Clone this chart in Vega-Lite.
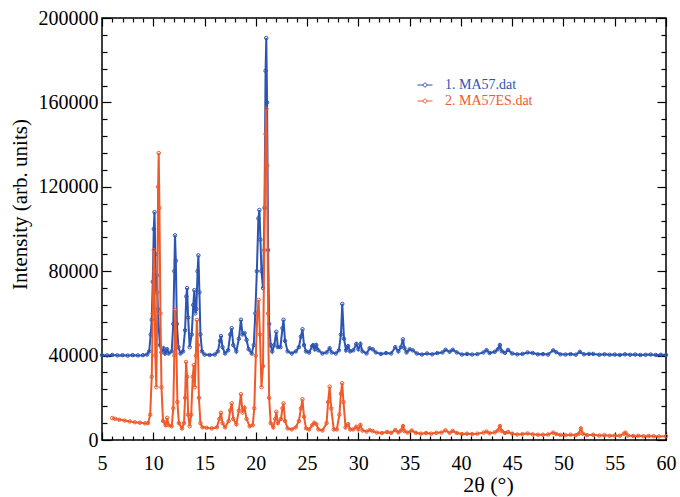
{
  "$schema": "https://vega.github.io/schema/vega-lite/v6.json",
  "width": 564,
  "height": 422,
  "autosize": {"type": "none"},
  "padding": {"left": 102, "top": 18, "right": 14, "bottom": 57},
  "background": "white",
  "config": {
    "view": {"stroke": "black", "strokeWidth": 1.5},
    "font": "Liberation Serif",
    "axis": {"labelFont": "Liberation Serif", "titleFont": "Liberation Serif", "grid": false, "domain": false, "labelColor": "black", "titleColor": "black", "titleFontWeight": "normal"},
    "legend": {"labelFont": "Liberation Serif"}
  },
  "datasets": {
    "a": [
      {"x":5.0,"y":40200},{"x":5.5,"y":40100},{"x":6.0,"y":40300},{"x":6.5,"y":40100},{"x":7.0,"y":40200},{"x":7.5,"y":40000},{"x":8.0,"y":40200},{"x":8.5,"y":40100},{"x":9.0,"y":40200},{"x":9.4,"y":40500},{"x":9.6,"y":42000},{"x":9.75,"y":50000},{"x":9.85,"y":57000},{"x":9.95,"y":75000},{"x":10.05,"y":100000},{"x":10.12,"y":108000},{"x":10.2,"y":88000},{"x":10.28,"y":70000},{"x":10.35,"y":78000},{"x":10.45,"y":62000},{"x":10.55,"y":52000},{"x":10.65,"y":45000},{"x":10.8,"y":41500},{"x":11.0,"y":43500},{"x":11.15,"y":41000},{"x":11.35,"y":43000},{"x":11.5,"y":41000},{"x":11.8,"y":42000},{"x":11.95,"y":55000},{"x":12.05,"y":80000},{"x":12.12,"y":97000},{"x":12.2,"y":85000},{"x":12.3,"y":55000},{"x":12.45,"y":44000},{"x":12.65,"y":41000},{"x":12.9,"y":42000},{"x":13.1,"y":52000},{"x":13.22,"y":68000},{"x":13.3,"y":72000},{"x":13.4,"y":58000},{"x":13.55,"y":44000},{"x":13.75,"y":50000},{"x":13.9,"y":64000},{"x":14.0,"y":71000},{"x":14.1,"y":60000},{"x":14.2,"y":62000},{"x":14.32,"y":80000},{"x":14.4,"y":87500},{"x":14.5,"y":70000},{"x":14.6,"y":50000},{"x":14.75,"y":42000},{"x":15.0,"y":40500},{"x":15.5,"y":40300},{"x":16.0,"y":40500},{"x":16.3,"y":42000},{"x":16.5,"y":47000},{"x":16.6,"y":49300},{"x":16.75,"y":44000},{"x":17.0,"y":41000},{"x":17.3,"y":42500},{"x":17.5,"y":50000},{"x":17.65,"y":53000},{"x":17.8,"y":45000},{"x":18.1,"y":42000},{"x":18.35,"y":48000},{"x":18.55,"y":57000},{"x":18.7,"y":50000},{"x":18.9,"y":50700},{"x":19.1,"y":47400},{"x":19.3,"y":43000},{"x":19.6,"y":41000},{"x":19.8,"y":45000},{"x":19.95,"y":60000},{"x":20.1,"y":80000},{"x":20.25,"y":105000},{"x":20.35,"y":109000},{"x":20.45,"y":95000},{"x":20.55,"y":80000},{"x":20.7,"y":72000},{"x":20.85,"y":110000},{"x":20.95,"y":175000},{"x":21.02,"y":190500},{"x":21.1,"y":160000},{"x":21.2,"y":90000},{"x":21.3,"y":55000},{"x":21.45,"y":45000},{"x":21.6,"y":42000},{"x":21.8,"y":45000},{"x":22.0,"y":51300},{"x":22.15,"y":44000},{"x":22.4,"y":44000},{"x":22.6,"y":53000},{"x":22.7,"y":57000},{"x":22.85,"y":47000},{"x":23.1,"y":42000},{"x":23.5,"y":41000},{"x":23.9,"y":42000},{"x":24.2,"y":44000},{"x":24.4,"y":49000},{"x":24.55,"y":52500},{"x":24.7,"y":45000},{"x":24.9,"y":42000},{"x":25.2,"y":41500},{"x":25.5,"y":44500},{"x":25.6,"y":45000},{"x":25.75,"y":43000},{"x":25.9,"y":45000},{"x":26.1,"y":42500},{"x":26.5,"y":41000},{"x":26.9,"y":41500},{"x":27.2,"y":43500},{"x":27.4,"y":41500},{"x":27.8,"y":41000},{"x":28.1,"y":42500},{"x":28.3,"y":50000},{"x":28.43,"y":64500},{"x":28.6,"y":48000},{"x":28.8,"y":42500},{"x":29.0,"y":44500},{"x":29.2,"y":42000},{"x":29.5,"y":42500},{"x":29.8,"y":45500},{"x":30.0,"y":43000},{"x":30.2,"y":45500},{"x":30.4,"y":42000},{"x":30.8,"y":41000},{"x":31.1,"y":43500},{"x":31.4,"y":43000},{"x":31.7,"y":41500},{"x":32.2,"y":40800},{"x":32.7,"y":41200},{"x":33.2,"y":41000},{"x":33.6,"y":44000},{"x":33.9,"y":42000},{"x":34.15,"y":44000},{"x":34.35,"y":47700},{"x":34.5,"y":43500},{"x":34.7,"y":41500},{"x":35.0,"y":43000},{"x":35.3,"y":42500},{"x":35.7,"y":41000},{"x":36.2,"y":40500},{"x":36.7,"y":41000},{"x":37.2,"y":40600},{"x":37.7,"y":41200},{"x":38.2,"y":41500},{"x":38.5,"y":42800},{"x":38.9,"y":41800},{"x":39.2,"y":42800},{"x":39.6,"y":41500},{"x":40.1,"y":40500},{"x":40.6,"y":40800},{"x":41.1,"y":40500},{"x":41.6,"y":40700},{"x":42.2,"y":41500},{"x":42.5,"y":42600},{"x":42.8,"y":41200},{"x":43.3,"y":41800},{"x":43.6,"y":43000},{"x":43.8,"y":45000},{"x":44.0,"y":42000},{"x":44.3,"y":41300},{"x":44.6,"y":42700},{"x":45.0,"y":41000},{"x":45.5,"y":40600},{"x":46.0,"y":40800},{"x":46.5,"y":41500},{"x":47.0,"y":41200},{"x":47.5,"y":40600},{"x":48.0,"y":40700},{"x":48.5,"y":40500},{"x":49.0,"y":42500},{"x":49.3,"y":41600},{"x":49.7,"y":40600},{"x":50.2,"y":40500},{"x":50.7,"y":40700},{"x":51.2,"y":40400},{"x":51.6,"y":41800},{"x":52.0,"y":40600},{"x":52.5,"y":40800},{"x":52.9,"y":40800},{"x":53.5,"y":40400},{"x":54.0,"y":40600},{"x":54.5,"y":40400},{"x":55.0,"y":40500},{"x":55.5,"y":40300},{"x":56.0,"y":40600},{"x":56.5,"y":40400},{"x":57.0,"y":40500},{"x":57.5,"y":40300},{"x":58.0,"y":40400},{"x":58.5,"y":40500},{"x":59.0,"y":40300},{"x":59.5,"y":40400},{"x":60.0,"y":40300}
    ],
    "b": [
      {"x":6.0,"y":10400},{"x":6.3,"y":10000},{"x":6.7,"y":9600},{"x":7.2,"y":9200},{"x":7.7,"y":8800},{"x":8.2,"y":8400},{"x":8.7,"y":8200},{"x":9.2,"y":7900},{"x":9.5,"y":8000},{"x":9.7,"y":12000},{"x":9.85,"y":30000},{"x":9.95,"y":60000},{"x":10.05,"y":90000},{"x":10.12,"y":80000},{"x":10.2,"y":40000},{"x":10.3,"y":25000},{"x":10.4,"y":70000},{"x":10.47,"y":120000},{"x":10.53,"y":136000},{"x":10.6,"y":110000},{"x":10.7,"y":60000},{"x":10.8,"y":25000},{"x":10.95,"y":9000},{"x":11.2,"y":7000},{"x":11.35,"y":10500},{"x":11.5,"y":7000},{"x":11.8,"y":6500},{"x":11.95,"y":15000},{"x":12.05,"y":40000},{"x":12.15,"y":61600},{"x":12.25,"y":45000},{"x":12.35,"y":18000},{"x":12.5,"y":8000},{"x":12.8,"y":5500},{"x":13.0,"y":8000},{"x":13.1,"y":20000},{"x":13.2,"y":37000},{"x":13.3,"y":30000},{"x":13.4,"y":12000},{"x":13.55,"y":6500},{"x":13.7,"y":12000},{"x":13.85,"y":30000},{"x":13.95,"y":35500},{"x":14.05,"y":25000},{"x":14.15,"y":40000},{"x":14.25,"y":56900},{"x":14.35,"y":45000},{"x":14.45,"y":20000},{"x":14.6,"y":8000},{"x":14.8,"y":6000},{"x":15.2,"y":5800},{"x":15.7,"y":5500},{"x":16.2,"y":6000},{"x":16.45,"y":10000},{"x":16.6,"y":12900},{"x":16.75,"y":8000},{"x":17.0,"y":6000},{"x":17.35,"y":9000},{"x":17.5,"y":14000},{"x":17.65,"y":17400},{"x":17.8,"y":10000},{"x":18.1,"y":7500},{"x":18.35,"y":14000},{"x":18.55,"y":21700},{"x":18.7,"y":13000},{"x":18.9,"y":15200},{"x":19.1,"y":10000},{"x":19.4,"y":6500},{"x":19.7,"y":7000},{"x":19.85,"y":15000},{"x":20.0,"y":40000},{"x":20.15,"y":60000},{"x":20.27,"y":66400},{"x":20.4,"y":50000},{"x":20.55,"y":25000},{"x":20.7,"y":35000},{"x":20.82,"y":90000},{"x":20.95,"y":145000},{"x":21.02,"y":157000},{"x":21.1,"y":130000},{"x":21.2,"y":60000},{"x":21.3,"y":20000},{"x":21.45,"y":8000},{"x":21.7,"y":6000},{"x":21.9,"y":10000},{"x":22.0,"y":13400},{"x":22.15,"y":8000},{"x":22.45,"y":10000},{"x":22.6,"y":15000},{"x":22.7,"y":17400},{"x":22.85,"y":9000},{"x":23.1,"y":5500},{"x":23.5,"y":5000},{"x":23.9,"y":6000},{"x":24.2,"y":9000},{"x":24.4,"y":15000},{"x":24.55,"y":19300},{"x":24.7,"y":11000},{"x":24.9,"y":5500},{"x":25.2,"y":5000},{"x":25.5,"y":7000},{"x":25.7,"y":8200},{"x":25.9,"y":7500},{"x":26.1,"y":5000},{"x":26.5,"y":4500},{"x":26.9,"y":8000},{"x":27.05,"y":18000},{"x":27.2,"y":25300},{"x":27.35,"y":15000},{"x":27.6,"y":5000},{"x":27.9,"y":5000},{"x":28.15,"y":12000},{"x":28.3,"y":22000},{"x":28.42,"y":26900},{"x":28.55,"y":18000},{"x":28.75,"y":6000},{"x":29.0,"y":7500},{"x":29.2,"y":5000},{"x":29.5,"y":5000},{"x":29.8,"y":6300},{"x":30.0,"y":5000},{"x":30.2,"y":7100},{"x":30.4,"y":4500},{"x":30.8,"y":4000},{"x":31.1,"y":4700},{"x":31.4,"y":4200},{"x":31.8,"y":3500},{"x":32.3,"y":3300},{"x":32.8,"y":3800},{"x":33.2,"y":3400},{"x":33.6,"y":4700},{"x":33.9,"y":3600},{"x":34.15,"y":4500},{"x":34.35,"y":6600},{"x":34.5,"y":4200},{"x":34.8,"y":3500},{"x":35.2,"y":4500},{"x":35.6,"y":3400},{"x":36.1,"y":3000},{"x":36.6,"y":3300},{"x":37.1,"y":3000},{"x":37.6,"y":3400},{"x":38.1,"y":3500},{"x":38.5,"y":4600},{"x":38.9,"y":3400},{"x":39.2,"y":4300},{"x":39.6,"y":3300},{"x":40.1,"y":2800},{"x":40.6,"y":3000},{"x":41.1,"y":2800},{"x":41.6,"y":3000},{"x":42.2,"y":3500},{"x":42.5,"y":4000},{"x":42.8,"y":3200},{"x":43.3,"y":3600},{"x":43.6,"y":4500},{"x":43.8,"y":6600},{"x":44.0,"y":4200},{"x":44.3,"y":3300},{"x":44.6,"y":3800},{"x":45.0,"y":3000},{"x":45.5,"y":2600},{"x":46.0,"y":2800},{"x":46.5,"y":3100},{"x":47.0,"y":2700},{"x":47.5,"y":2500},{"x":48.0,"y":2500},{"x":48.5,"y":2600},{"x":49.0,"y":3500},{"x":49.3,"y":2800},{"x":49.7,"y":2400},{"x":50.2,"y":2300},{"x":50.7,"y":2500},{"x":51.2,"y":2300},{"x":51.5,"y":3000},{"x":51.7,"y":5500},{"x":51.9,"y":3000},{"x":52.3,"y":2300},{"x":52.9,"y":2500},{"x":53.5,"y":2100},{"x":54.0,"y":2300},{"x":54.5,"y":2000},{"x":55.0,"y":2100},{"x":55.5,"y":2000},{"x":55.9,"y":3000},{"x":56.05,"y":3500},{"x":56.3,"y":2100},{"x":56.8,"y":1900},{"x":57.3,"y":2000},{"x":57.8,"y":1800},{"x":58.3,"y":1900},{"x":58.8,"y":1800},{"x":59.3,"y":1700},{"x":60.0,"y":1800}
    ]
  },
  "resolve": {"axis": {"x": "independent", "y": "independent"}},
  "layer": [
    {
      "data": {"name": "a"},
      "mark": {"type": "line", "strokeWidth": 2, "point": {"filled": false, "size": 12, "strokeWidth": 1}},
      "encoding": {
        "x": {"field": "x", "type": "quantitative", "scale": {"domain": [5, 60], "nice": false, "zero": false},
          "axis": {"orient": "bottom", "values": [5,10,15,20,25,30,35,40,45,50,55,60], "ticks": false, "tickSize": 0, "labelFontSize": 20, "labelPadding": 13, "labelFlush": false, "title": "2θ (°)", "titleFontSize": 22, "titleX": 386, "titleY": 44, "titleBaseline": "middle", "titleAlign": "center"}},
        "y": {"field": "y", "type": "quantitative", "scale": {"domain": [0, 200000], "nice": false},
          "axis": {"orient": "left", "values": [0,40000,80000,120000,160000,200000], "format": "d", "ticks": false, "tickSize": 0, "labelFontSize": 20, "labelPadding": 4, "labelFlush": false, "title": "Intensity (arb. units)", "titleFontSize": 21, "titleX": -82, "titleY": 186, "titleBaseline": "middle", "titleAlign": "center", "titleAngle": -90}},
        "color": {"datum": "1. MA57.dat", "type": "nominal",
          "scale": {"domain": ["1. MA57.dat", "2. MA57ES.dat"], "range": ["#2C54B2", "#EF5A2A"]},
          "legend": {"title": null, "orient": "none", "legendX": 315, "legendY": 59, "padding": 0, "symbolSize": 225, "symbolStrokeWidth": 1, "symbolFillColor": "white",
            "symbolType": "M-1,0H-0.25M0.25,0H1M0.25,0A0.25,0.25,0,1,1,-0.25,0A0.25,0.25,0,1,1,0.25,0",
            "labelFontSize": 14, "labelOffset": 12, "rowPadding": 1,
            "encode": {"labels": {"update": {"fill": {"scale": "color", "field": "value"}}}}}}
      }
    },
    {
      "data": {"name": "b"},
      "mark": {"type": "line", "strokeWidth": 2, "point": {"filled": false, "size": 12, "strokeWidth": 1}},
      "encoding": {
        "x": {"field": "x", "type": "quantitative",
          "axis": {"orient": "top", "offset": -422, "values": [5,6,7,8,9,10,11,12,13,14,15,16,17,18,19,20,21,22,23,24,25,26,27,28,29,30,31,32,33,34,35,36,37,38,39,40,41,42,43,44,45,46,47,48,49,50,51,52,53,54,55,56,57,58,59,60], "labels": false, "title": null, "tickColor": "black", "tickWidth": 1.2, "tickSize": {"condition": {"test": "datum.value % 5 === 0", "value": 8}, "value": 4}}},
        "y": {"field": "y", "type": "quantitative",
          "axis": {"orient": "right", "offset": -564, "values": [0,8000,16000,24000,32000,40000,48000,56000,64000,72000,80000,88000,96000,104000,112000,120000,128000,136000,144000,152000,160000,168000,176000,184000,192000,200000], "labels": false, "title": null, "tickColor": "black", "tickWidth": 1.2, "tickSize": {"condition": {"test": "datum.value % 40000 === 0", "value": 9}, "value": 5}}},
        "color": {"datum": "2. MA57ES.dat", "type": "nominal"}
      }
    },
    {
      "data": {"name": "a"},
      "mark": {"type": "point", "opacity": 0},
      "encoding": {
        "x": {"field": "x", "type": "quantitative",
          "axis": {"orient": "bottom", "offset": -422, "values": [5,6,7,8,9,10,11,12,13,14,15,16,17,18,19,20,21,22,23,24,25,26,27,28,29,30,31,32,33,34,35,36,37,38,39,40,41,42,43,44,45,46,47,48,49,50,51,52,53,54,55,56,57,58,59,60], "labels": false, "title": null, "tickColor": "black", "tickWidth": 1.2, "tickSize": {"condition": {"test": "datum.value % 5 === 0", "value": 8}, "value": 4}}},
        "y": {"field": "y", "type": "quantitative",
          "axis": {"orient": "left", "offset": -564, "values": [0,8000,16000,24000,32000,40000,48000,56000,64000,72000,80000,88000,96000,104000,112000,120000,128000,136000,144000,152000,160000,168000,176000,184000,192000,200000], "labels": false, "title": null, "tickColor": "black", "tickWidth": 1.2, "tickSize": {"condition": {"test": "datum.value % 40000 === 0", "value": 9}, "value": 5}}}
      }
    }
  ]
}
